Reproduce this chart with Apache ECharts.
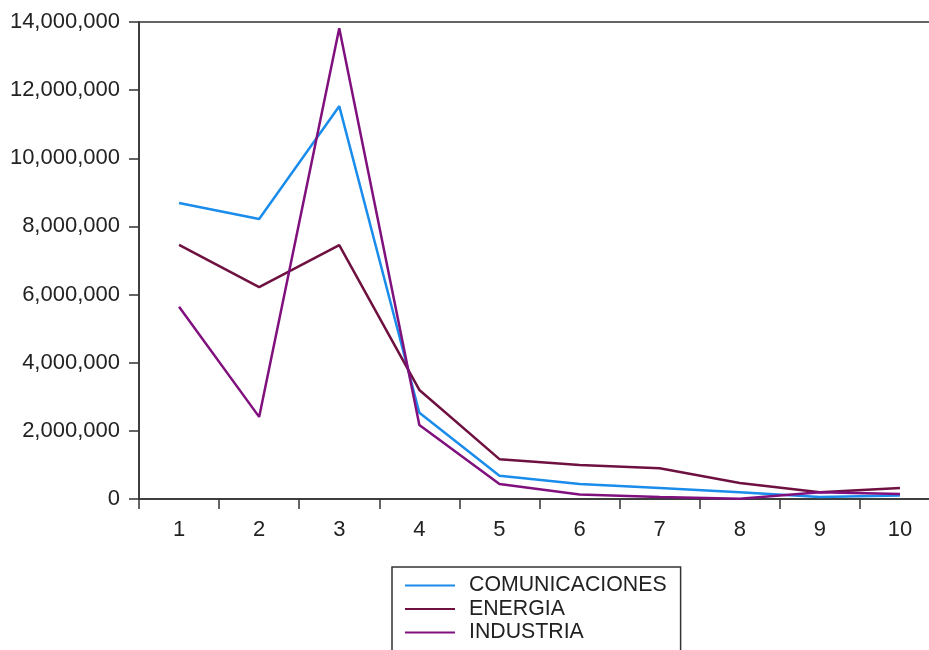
<!DOCTYPE html>
<html><head><meta charset="utf-8">
<script src="https://cdn.jsdelivr.net/npm/echarts@6/dist/echarts.min.js"></script>
<style>html,body{margin:0;padding:0;background:#fff;overflow:hidden}#c{width:940px;height:700px}</style>
</head><body><div id="c"></div>
<script>
const categories = ['1','2','3','4','5','6','7','8','9','10'];
const comunicaciones = [8690000, 8220000, 11530000, 2530000, 680000, 440000, 320000, 200000, 60000, 100000];
const energia = [7460000, 6220000, 7450000, 3200000, 1170000, 1000000, 900000, 470000, 200000, 320000];
const industria = [5640000, 2410000, 13820000, 2170000, 440000, 130000, 60000, 10000, 200000, 150000];
const yTicks = { min: 0, max: 14000000, interval: 2000000 };

const font = 'Liberation Sans, Arial, sans-serif';
const chart = echarts.init(document.getElementById('c'), null, {renderer: 'canvas'});
function mk(name, data, color) {
  return { name, type: 'line', data, symbol: 'none', smooth: false,
    lineStyle: { color, width: 2.5 }, itemStyle: { color } };
}
chart.setOption({
  animation: false,
  backgroundColor: '#fff',
  grid: { left: 139, top: 22, right: 0, bottom: 201, show: true, borderColor: '#333', borderWidth: 1.5, backgroundColor: 'transparent' },
  legend: {
    orient: 'vertical', left: 392, top: 567,
    borderColor: '#333', borderWidth: 1.5,
    padding: [8, 14, 30, 13], itemGap: 2.5,
    itemWidth: 50, itemHeight: 21,
    icon: 'path://M0,9.5 L50,9.5 L50,11.5 L0,11.5 Z',
    textStyle: { fontFamily: font, fontSize: 21.3, color: '#222', padding: [0, 0, 0, 9] },
    data: ['COMUNICACIONES', 'ENERGIA', 'INDUSTRIA']
  },
  xAxis: {
    type: 'category', data: categories, boundaryGap: true,
    axisLine: { lineStyle: { color: '#333', width: 1.5 } },
    axisTick: { show: true, length: 10, inside: false, lineStyle: { color: '#333', width: 1.5 } },
    axisLabel: { fontFamily: font, fontSize: 22, color: '#222', margin: 20 },
    splitLine: { show: false }
  },
  yAxis: {
    type: 'value', min: yTicks.min, max: yTicks.max, interval: yTicks.interval,
    axisLine: { show: true, lineStyle: { color: '#333', width: 1.5 } },
    axisTick: { show: true, length: 10, lineStyle: { color: '#333', width: 1.5 } },
    axisLabel: { fontFamily: font, fontSize: 22, color: '#222', margin: 19,
      formatter: v => v.toLocaleString('en-US') },
    splitLine: { show: false }
  },
  series: [
    mk('COMUNICACIONES', comunicaciones, '#1a8ceb'),
    mk('ENERGIA', energia, '#6e1040'),
    mk('INDUSTRIA', industria, '#80107e')
  ]
});
</script></body></html>
